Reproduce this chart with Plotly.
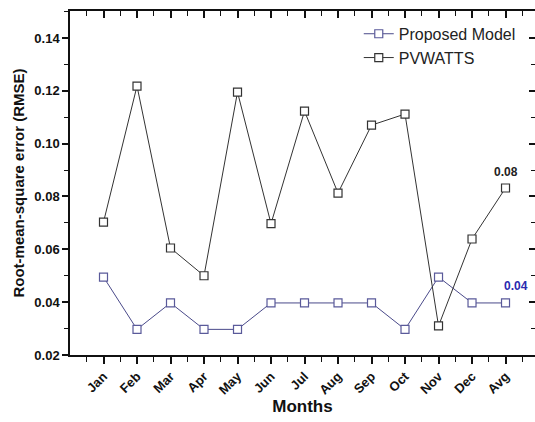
import plotly.graph_objects as go

months = ["Jan", "Feb", "Mar", "Apr", "May", "Jun", "Jul", "Aug", "Sep", "Oct", "Nov", "Dec", "Avg"]
proposed = [0.0495, 0.0297, 0.0397, 0.0297, 0.0297, 0.0397, 0.0397, 0.0397, 0.0397, 0.0297, 0.0495, 0.0397, 0.0397]
pvwatts = [0.0703, 0.1218, 0.0605, 0.0500, 0.1195, 0.0697, 0.1123, 0.0813, 0.1070, 0.1112, 0.0310, 0.0639, 0.0832]
ann_pv = "0.08"
ann_prop = "0.04"

xpos = list(range(1, len(months) + 1))
FONT = "Liberation Sans, Arial, sans-serif"
blue_line = "#4a4a8a"
blue_mark = "#5a5a9a"

fig = go.Figure()
fig.add_trace(go.Scatter(
    x=xpos, y=proposed, name="Proposed Model", mode="lines+markers",
    line=dict(color=blue_line, width=1),
    marker=dict(symbol="square", size=8, color="white", line=dict(color=blue_mark, width=1.2)),
))
fig.add_trace(go.Scatter(
    x=xpos, y=pvwatts, name="PVWATTS", mode="lines+markers",
    line=dict(color="#333333", width=1),
    marker=dict(symbol="square", size=8, color="white", line=dict(color="#333333", width=1.2)),
))
# dummy trace to activate mirrored tick axes
fig.add_trace(go.Scatter(x=[None], y=[None], xaxis="x2", yaxis="y2", showlegend=False, hoverinfo="skip"))

fig.add_annotation(x=13, y=pvwatts[12], text="<b>" + ann_pv + "</b>", showarrow=False,
                   yshift=16, font=dict(family=FONT, size=12, color="#222222"))
fig.add_annotation(x=13.2, y=proposed[12], text="<b>" + ann_prop + "</b>", showarrow=False,
                   yshift=17, xshift=4, font=dict(family=FONT, size=12, color="#2a2ab0"))

xr = [0.0, 13.88]
yr = [0.02, 0.1502]
fig.update_layout(
    width=535, height=422,
    margin=dict(l=70, r=0, t=11, b=67, autoexpand=False),
    paper_bgcolor="white", plot_bgcolor="white",
    font=dict(family=FONT, color="#111111"),
    showlegend=True,
    legend=dict(x=0.621, y=0.983, xanchor="left", yanchor="top", bgcolor="rgba(0,0,0,0)",
                font=dict(family=FONT, size=16, color="#222222"), tracegroupgap=0,
                itemwidth=30),
    xaxis=dict(
        range=xr, tickmode="array", tickvals=xpos, ticktext=["<b>" + m + "</b>" for m in months],
        tickangle=-45, ticks="outside", ticklen=7, tickwidth=1.5, tickcolor="#111111",
        showline=True, linecolor="#111111", linewidth=1.5, showgrid=False, zeroline=False,
        tickfont=dict(family=FONT, size=13, color="#111111"), automargin=False,
        minor=dict(tick0=0.5, dtick=1, ticks="outside", ticklen=5, tickwidth=1.2, tickcolor="#111111"),
        title=dict(text="<b>Months</b>", font=dict(family=FONT, size=17, color="#111111"), standoff=2),
    ),
    yaxis=dict(
        range=yr, tickmode="array", tickvals=[0.02, 0.04, 0.06, 0.08, 0.10, 0.12, 0.14],
        ticktext=["<b>0.02</b>", "<b>0.04</b>", "<b>0.06</b>", "<b>0.08</b>", "<b>0.10</b>", "<b>0.12</b>", "<b>0.14</b>"],
        ticks="outside", ticklen=6, tickwidth=1.5, tickcolor="#111111",
        showline=True, linecolor="#111111", linewidth=1.5, showgrid=False, zeroline=False,
        tickfont=dict(family=FONT, size=13, color="#111111"), automargin=False,
        minor=dict(tick0=0.03, dtick=0.02, ticks="outside", ticklen=4, tickwidth=1.2, tickcolor="#111111"),
        title=dict(text="<b>Root-mean-square error (RMSE)</b>", font=dict(family=FONT, size=15, color="#111111"), standoff=6),
    ),
    xaxis2=dict(
        range=xr, overlaying="x", side="top", anchor="y2", showticklabels=False,
        tickmode="array", tickvals=xpos, ticks="inside", ticklen=7, tickwidth=1.5, tickcolor="#111111",
        showline=True, linecolor="#111111", linewidth=1.5, showgrid=False, zeroline=False, automargin=False,
        minor=dict(tick0=0.5, dtick=1, ticks="inside", ticklen=5, tickwidth=1.2, tickcolor="#111111"),
    ),
    yaxis2=dict(
        range=yr, overlaying="y", side="right", anchor="x2", showticklabels=False,
        tickmode="array", tickvals=[0.02, 0.04, 0.06, 0.08, 0.10, 0.12, 0.14],
        ticks="inside", ticklen=6, tickwidth=1.5, tickcolor="#111111", automargin=False,
        showline=False, showgrid=False, zeroline=False,
        minor=dict(tick0=0.03, dtick=0.02, ticks="inside", ticklen=4, tickwidth=1.2, tickcolor="#111111"),
    ),
)

fig.write_html("out.html", config={"displayModeBar": False},
               post_script="document.body.style.margin='0';document.body.style.overflow='hidden';")
